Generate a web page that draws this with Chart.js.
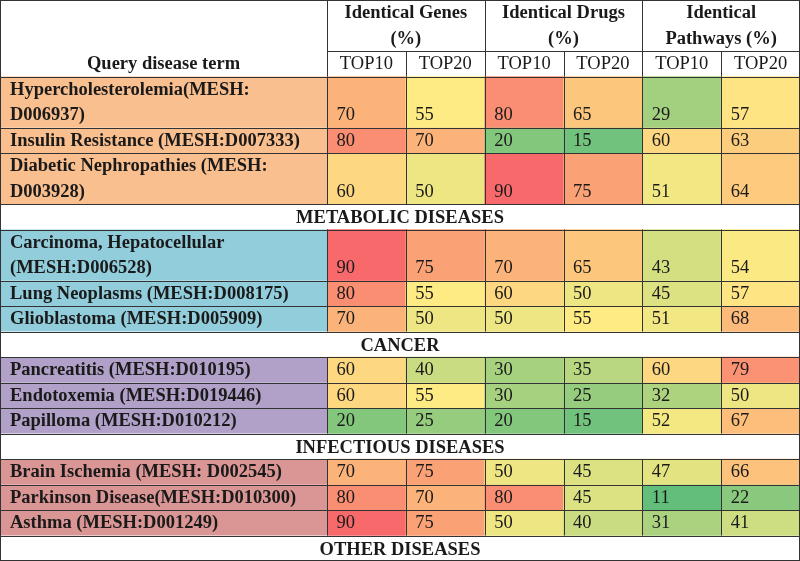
<!DOCTYPE html>
<html>
<head>
<meta charset="utf-8">
<title>Identical genes, drugs and pathways per query disease term</title>
<script src="https://cdn.jsdelivr.net/npm/chart.js@4.4.1/dist/chart.umd.min.js"></script>
<style>
    html, body { margin: 0; padding: 0; background: #fff; }
    canvas { display: block; }
</style>
</head>
<body>
<canvas id="tableChart" width="800" height="561"></canvas>
<script>
// Table content
const firstHeader = 'Query disease term';
const headerLabels = [['Identical Genes', '(%)'], ['Identical Drugs', '(%)'], ['Identical', 'Pathways (%)']];
const columnKeys = ['genes10', 'genes20', 'drugs10', 'drugs20', 'pathways10', 'pathways20'];
const topLabels = ['TOP10', 'TOP20', 'TOP10', 'TOP20', 'TOP10', 'TOP20'];
const groupNames = ['METABOLIC DISEASES', 'CANCER', 'INFECTIOUS DISEASES', 'OTHER DISEASES'];

// each term is split into the lines it shows in the table
const diseaseTerms = [
    ['Hypercholesterolemia(MESH:', 'D006937)'],
    ['Insulin Resistance (MESH:D007333)'],
    ['Diabetic Nephropathies (MESH:', 'D003928)'],
    ['Carcinoma, Hepatocellular', '(MESH:D006528)'],
    ['Lung Neoplasms (MESH:D008175)'],
    ['Glioblastoma (MESH:D005909)'],
    ['Pancreatitis (MESH:D010195)'],
    ['Endotoxemia (MESH:D019446)'],
    ['Papilloma (MESH:D010212)'],
    ['Brain Ischemia (MESH: D002545)'],
    ['Parkinson Disease(MESH:D010300)'],
    ['Asthma (MESH:D001249)']
];
const diseaseGroup = [0, 0, 0, 1, 1, 1, 2, 2, 2, 3, 3, 3];

const genesTop10 = [70, 80, 60, 90, 80, 70, 60, 60, 20, 70, 80, 90];
const genesTop20 = [55, 70, 50, 75, 55, 50, 40, 55, 25, 75, 70, 75];
const drugsTop10 = [80, 20, 90, 70, 60, 50, 30, 30, 20, 50, 80, 50];
const drugsTop20 = [65, 15, 75, 65, 50, 55, 35, 25, 15, 45, 45, 40];
const pathwaysTop10 = [29, 60, 51, 43, 45, 51, 60, 32, 52, 47, 11, 31];
const pathwaysTop20 = [57, 63, 64, 54, 57, 68, 79, 50, 67, 66, 22, 41];
const seriesValues = [genesTop10, genesTop20, drugsTop10, drugsTop20, pathwaysTop10, pathwaysTop20];

// Styles
const groupColors = ['#FABF8F', '#92CDDC', '#B1A0C7', '#DA9694'];
const lineColor = '#333333';
const textColor = '#1a1a1a';
const fontFamily = "'Liberation Serif', 'Times New Roman', serif";
const fontSize = 18.5;
const labelColWidth = 327;

// Row layout in line units: 2 header rows (2 + 1 lines), then each group's rows and its name row
let cursor = 3;
const rowSpans = [];
const groupSpans = [];
groupNames.forEach((g, gi) => {
    diseaseTerms.forEach((term, i) => {
        if (diseaseGroup[i] !== gi) return;
        rowSpans[i] = [cursor, cursor + term.length];
        cursor += term.length;
    });
    groupSpans.push([cursor, cursor + 1]);
    cursor += 1;
});
const totalUnits = cursor;

// Excel-like 3 colour scale: green (min) - yellow (median) - red (max)
const allValues = [].concat(...seriesValues).sort((a, b) => a - b);
const vMin = allValues[0];
const vMax = allValues[allValues.length - 1];
const half = allValues.length / 2;
const vMid = allValues.length % 2 ? allValues[Math.floor(half)] : (allValues[half - 1] + allValues[half]) / 2;

function mix(c1, c2, t) {
    const c = c1.map((v, k) => Math.round(v + (c2[k] - v) * t));
    return `rgb(${c[0]}, ${c[1]}, ${c[2]})`;
}
function cellColor(v) {
    const green = [99, 190, 123], yellow = [255, 235, 132], red = [248, 105, 107];
    if (v <= vMid) return mix(green, yellow, (v - vMin) / (vMid - vMin));
    return mix(yellow, red, (v - vMid) / (vMax - vMid));
}

const datasets = diseaseTerms.map((term, i) => ({
    label: term.join(' '),
    data: columnKeys.map(() => rowSpans[i]),
    cellValues: seriesValues.map(s => s[i]),
    backgroundColor: seriesValues.map(s => cellColor(s[i])),
    borderWidth: 0,
    grouped: false,
    categoryPercentage: 1,
    barPercentage: 1
}));

const crisp = v => Math.round(v) + 0.5;

const tablePlugin = {
    id: 'tableDecor',
    beforeDatasetsDraw(chart) {
        const { ctx, chartArea, scales: { y } } = chart;
        ctx.save();
        diseaseTerms.forEach((term, i) => {
            const top = y.getPixelForValue(rowSpans[i][0]);
            const bottom = y.getPixelForValue(rowSpans[i][1]);
            ctx.fillStyle = groupColors[diseaseGroup[i]];
            ctx.fillRect(0, top, chartArea.left, bottom - top);
        });
        ctx.restore();
    },
    afterDatasetsDraw(chart) {
        const { ctx, chartArea: area, scales: { x, y } } = chart;
        const W = chart.width, H = chart.height;
        const colW = x.getPixelForValue(1) - x.getPixelForValue(0);
        const colLeft = k => k >= columnKeys.length ? area.right : x.getPixelForValue(k) - colW / 2;
        const py = v => y.getPixelForValue(v);

        ctx.save();
        // grid lines
        ctx.strokeStyle = lineColor;
        ctx.lineWidth = 1;
        const seg = (x0, y0, x1, y1) => {
            ctx.beginPath();
            ctx.moveTo(x0, y0);
            ctx.lineTo(x1, y1);
            ctx.stroke();
        };
        const hline = (x0, x1, yy) => seg(x0, crisp(yy), x1, crisp(yy));
        const vline = (xx, y0, y1) => seg(crisp(xx), y0, crisp(xx), y1);

        hline(area.left, W, py(2));
        hline(0, W, py(3));
        rowSpans.forEach(s => hline(0, W, py(s[1])));
        groupSpans.forEach(s => hline(0, W, py(s[1])));

        vline(area.left, 0, py(3));
        for (let k = 1; k < columnKeys.length; k++) {
            vline(colLeft(k), k % 2 === 0 ? 0 : py(2), py(3));
        }
        groupSpans.forEach((s, gi) => {
            const blockTop = gi === 0 ? 3 : groupSpans[gi - 1][1];
            for (let k = 0; k < columnKeys.length; k++) {
                vline(colLeft(k), py(blockTop), py(s[0]));
            }
        });
        ctx.strokeRect(0.5, 0.5, W - 1, H - 1);

        // header texts
        const bold = `bold ${fontSize}px ${fontFamily}`;
        const regular = `${fontSize}px ${fontFamily}`;
        ctx.fillStyle = textColor;
        ctx.textBaseline = 'alphabetic';
        ctx.font = bold;
        ctx.textAlign = 'center';
        ctx.fillText(firstHeader, area.left / 2, py(3) - 8);
        headerLabels.forEach((lines, p) => {
            const cx = (colLeft(2 * p) + colLeft(2 * p + 2)) / 2;
            lines.forEach((line, l) => ctx.fillText(line, cx, py(l + 1) - 7.5));
        });
        ctx.font = regular;
        topLabels.forEach((t, k) => ctx.fillText(t, x.getPixelForValue(k), py(3) - 8));

        // group name rows
        ctx.font = bold;
        groupNames.forEach((g, gi) => ctx.fillText(g, W / 2, py(groupSpans[gi][1]) - 6.5));

        // disease terms
        ctx.textAlign = 'left';
        diseaseTerms.forEach((term, i) => {
            term.forEach((line, l) => ctx.fillText(line, 10, py(rowSpans[i][0] + l + 1) - 7.5));
        });

        // cell values, placed from the bar elements
        ctx.font = regular;
        chart.data.datasets.forEach((ds, i) => {
            chart.getDatasetMeta(i).data.forEach((bar, j) => {
                const bottom = Math.max(bar.y, bar.base);
                ctx.fillText(String(ds.cellValues[j]), bar.x - bar.width / 2 + 9.5, bottom - 7.5);
            });
        });
        ctx.restore();
    }
};

new Chart(document.getElementById('tableChart'), {
    type: 'bar',
    data: { labels: columnKeys, datasets: datasets },
    options: {
        responsive: false,
        animation: false,
        layout: { padding: { left: labelColWidth, right: 0, top: 0, bottom: 0 } },
        plugins: { legend: { display: false }, tooltip: { enabled: false } },
        scales: {
            x: { display: false },
            y: { display: false, min: 0, max: totalUnits, reverse: true }
        }
    },
    plugins: [tablePlugin]
});
</script>
</body>
</html>
